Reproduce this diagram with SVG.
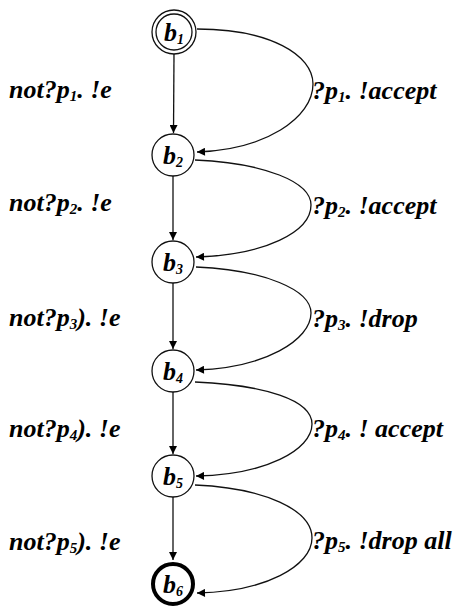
<svg xmlns="http://www.w3.org/2000/svg" width="461" height="607" viewBox="0 0 461 607">
<style>
  .node { fill: #fff; stroke: #111; stroke-width: 1.3; }
  .final { fill: #fff; stroke: #000; stroke-width: 4; }
  .lbl { font-family: "Liberation Serif", "Times New Roman", serif; font-weight: bold; font-style: italic; font-size: 26px; fill: #000; }
  .nlbl { font-family: "Liberation Serif", "Times New Roman", serif; font-weight: bold; font-style: italic; font-size: 26px; fill: #000; }
  .edge { fill: none; stroke: #111; stroke-width: 1.3; }
</style>
<defs>
  <marker id="ah" viewBox="0 0 10 10" refX="10" refY="5" markerUnits="userSpaceOnUse" markerWidth="9" markerHeight="8" orient="auto">
    <path d="M0,0 L10,5 L0,10 z" fill="#000"/>
  </marker>
</defs>
<rect width="461" height="607" fill="#fff"/>
<g id="connectors">
  <line class="edge" x1="174" y1="54" x2="173.5" y2="133" marker-end="url(#ah)"/>
  <line class="edge" x1="173" y1="176" x2="173" y2="240" marker-end="url(#ah)"/>
  <line class="edge" x1="173" y1="283" x2="173" y2="349" marker-end="url(#ah)"/>
  <line class="edge" x1="173" y1="392" x2="173" y2="454" marker-end="url(#ah)"/>
  <line class="edge" x1="173" y1="497" x2="173" y2="560" marker-end="url(#ah)"/>
  <path class="edge" d="M 197 29 C 270 29, 313 55, 313 84 C 313 118, 265 150, 197 152" marker-end="url(#ah)"/>
  <path class="edge" d="M 195 160 C 265 163, 311 182, 311 205 C 311 232, 265 255, 196 257" marker-end="url(#ah)"/>
  <path class="edge" d="M 196 267 C 265 270, 311 290, 311 313 C 311 340, 265 368, 196 370" marker-end="url(#ah)"/>
  <path class="edge" d="M 195 382 C 265 385, 312 400, 312 424 C 312 450, 265 475, 196 476" marker-end="url(#ah)"/>
  <path class="edge" d="M 195 485 C 265 488, 312 510, 312 538 C 312 566, 265 592, 197 593" marker-end="url(#ah)"/>
</g>
<g id="b1">
  <circle class="node" cx="174" cy="32" r="22"/>
  <circle class="node" cx="174" cy="32" r="18"/>
  <text class="nlbl" x="174" y="41" text-anchor="middle">b<tspan font-size="14" dy="3">1</tspan></text>
</g>
<g id="b2">
  <circle class="node" cx="173" cy="155" r="21"/>
  <text class="nlbl" x="173" y="164" text-anchor="middle">b<tspan font-size="14" dy="3">2</tspan></text>
</g>
<g id="b3">
  <circle class="node" cx="173" cy="262" r="21"/>
  <text class="nlbl" x="173" y="271" text-anchor="middle">b<tspan font-size="14" dy="3">3</tspan></text>
</g>
<g id="b4">
  <circle class="node" cx="173" cy="371" r="21"/>
  <text class="nlbl" x="173" y="380" text-anchor="middle">b<tspan font-size="14" dy="3">4</tspan></text>
</g>
<g id="b5">
  <circle class="node" cx="173" cy="476" r="21"/>
  <text class="nlbl" x="173" y="485" text-anchor="middle">b<tspan font-size="14" dy="3">5</tspan></text>
</g>
<g id="b6">
  <circle class="final" cx="173" cy="584" r="20"/>
  <text class="nlbl" x="173" y="593" text-anchor="middle">b<tspan font-size="14" dy="3">6</tspan></text>
</g>
<g id="labels-left">
  <text class="lbl" x="9" y="98">not?p<tspan font-size="15" dy="3">1</tspan><tspan dy="-3">. !e</tspan></text>
  <text class="lbl" x="9" y="211">not?p<tspan font-size="15" dy="3">2</tspan><tspan dy="-3">. !e</tspan></text>
  <text class="lbl" x="9" y="326">not?p<tspan font-size="15" dy="3">3</tspan><tspan dy="-3">). !e</tspan></text>
  <text class="lbl" x="9" y="437">not?p<tspan font-size="15" dy="3">4</tspan><tspan dy="-3">). !e</tspan></text>
  <text class="lbl" x="9" y="550">not?p<tspan font-size="15" dy="3">5</tspan><tspan dy="-3">). !e</tspan></text>
</g>
<g id="labels-right">
  <text class="lbl" x="312" y="99">?p<tspan font-size="15" dy="3">1</tspan><tspan dy="-3">. !accept</tspan></text>
  <text class="lbl" x="312" y="214">?p<tspan font-size="15" dy="3">2</tspan><tspan dy="-3">. !accept</tspan></text>
  <text class="lbl" x="312" y="327">?p<tspan font-size="15" dy="3">3</tspan><tspan dy="-3">. !drop</tspan></text>
  <text class="lbl" x="312" y="437">?p<tspan font-size="15" dy="3">4</tspan><tspan dy="-3">. ! accept</tspan></text>
  <text class="lbl" x="312" y="549">?p<tspan font-size="15" dy="3">5</tspan><tspan dy="-3">. !drop all</tspan></text>
</g>
</svg>
